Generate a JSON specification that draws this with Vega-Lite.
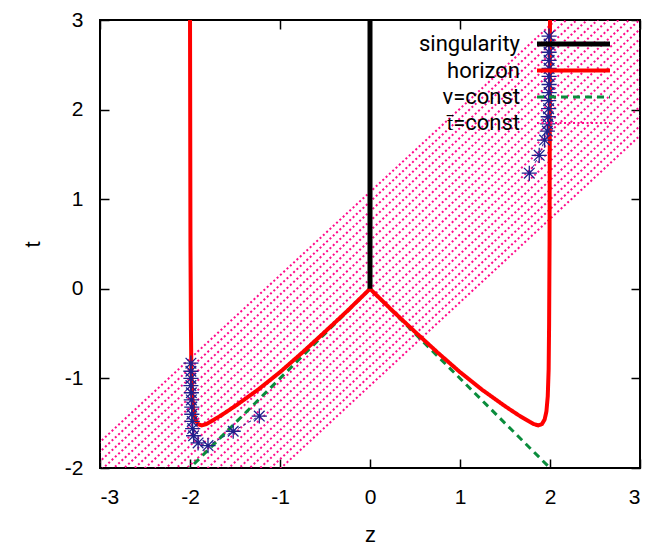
{
  "$schema": "https://vega.github.io/schema/vega-lite/v6.json",
  "width": 540,
  "height": 448,
  "autosize": "none",
  "padding": {"left": 100, "top": 20, "right": 32, "bottom": 80},
  "background": "white",
  "config": {
    "view": {"stroke": "black", "strokeWidth": 2},
    "axis": {
      "labelFont": "Liberation Sans", "labelFontSize": 21, "labelColor": "black",
      "titleFont": "Liberation Sans", "titleFontSize": 22, "titleFontWeight": "normal", "titleColor": "black",
      "tickColor": "black", "tickWidth": 1.5, "tickSize": -9, "domain": false, "grid": false
    }
  },
  "datasets": {
    "lines": [
      {"s": "t\u0304=const", "id": "p0", "z": -3.2, "t": -4.056}, {"s": "t\u0304=const", "id": "p0", "z": 3.2, "t": 1.896},
      {"s": "t\u0304=const", "id": "p1", "z": -3.2, "t": -3.948}, {"s": "t\u0304=const", "id": "p1", "z": 3.2, "t": 2.004},
      {"s": "t\u0304=const", "id": "p2", "z": -3.2, "t": -3.84}, {"s": "t\u0304=const", "id": "p2", "z": 3.2, "t": 2.112},
      {"s": "t\u0304=const", "id": "p3", "z": -3.2, "t": -3.732}, {"s": "t\u0304=const", "id": "p3", "z": 3.2, "t": 2.22},
      {"s": "t\u0304=const", "id": "p4", "z": -3.2, "t": -3.624}, {"s": "t\u0304=const", "id": "p4", "z": 3.2, "t": 2.328},
      {"s": "t\u0304=const", "id": "p5", "z": -3.2, "t": -3.516}, {"s": "t\u0304=const", "id": "p5", "z": 3.2, "t": 2.436},
      {"s": "t\u0304=const", "id": "p6", "z": -3.2, "t": -3.408}, {"s": "t\u0304=const", "id": "p6", "z": 3.2, "t": 2.544},
      {"s": "t\u0304=const", "id": "p7", "z": -3.2, "t": -3.3}, {"s": "t\u0304=const", "id": "p7", "z": 3.2, "t": 2.652},
      {"s": "t\u0304=const", "id": "p8", "z": -3.2, "t": -3.192}, {"s": "t\u0304=const", "id": "p8", "z": 3.2, "t": 2.76},
      {"s": "t\u0304=const", "id": "p9", "z": -3.2, "t": -3.084}, {"s": "t\u0304=const", "id": "p9", "z": 3.2, "t": 2.868},
      {"s": "t\u0304=const", "id": "p10", "z": -3.2, "t": -2.976}, {"s": "t\u0304=const", "id": "p10", "z": 3.2, "t": 2.976},
      {"s": "t\u0304=const", "id": "p11", "z": -3.2, "t": -2.868}, {"s": "t\u0304=const", "id": "p11", "z": 3.2, "t": 3.084},
      {"s": "t\u0304=const", "id": "p12", "z": -3.2, "t": -2.76}, {"s": "t\u0304=const", "id": "p12", "z": 3.2, "t": 3.192},
      {"s": "t\u0304=const", "id": "p13", "z": -3.2, "t": -2.652}, {"s": "t\u0304=const", "id": "p13", "z": 3.2, "t": 3.3},
      {"s": "t\u0304=const", "id": "p14", "z": -3.2, "t": -2.544}, {"s": "t\u0304=const", "id": "p14", "z": 3.2, "t": 3.408},
      {"s": "t\u0304=const", "id": "p15", "z": -3.2, "t": -2.436}, {"s": "t\u0304=const", "id": "p15", "z": 3.2, "t": 3.516},
      {"s": "t\u0304=const", "id": "p16", "z": -3.2, "t": -2.328}, {"s": "t\u0304=const", "id": "p16", "z": 3.2, "t": 3.624},
      {"s": "t\u0304=const", "id": "p17", "z": -3.2, "t": -2.22}, {"s": "t\u0304=const", "id": "p17", "z": 3.2, "t": 3.732},
      {"s": "t\u0304=const", "id": "p18", "z": -3.2, "t": -2.112}, {"s": "t\u0304=const", "id": "p18", "z": 3.2, "t": 3.84},
      {"s": "t\u0304=const", "id": "p19", "z": -3.2, "t": -2.004}, {"s": "t\u0304=const", "id": "p19", "z": 3.2, "t": 3.948},
      {"s": "t\u0304=const", "id": "p20", "z": -3.2, "t": -1.896}, {"s": "t\u0304=const", "id": "p20", "z": 3.2, "t": 4.056},
      {"s": "v=const", "id": "v", "z": -2.05, "t": -2.05}, {"s": "v=const", "id": "v", "z": 0, "t": 0}, {"s": "v=const", "id": "v", "z": 2.05, "t": -2.05},
      {"s": "horizon", "id": "h", "z": -2.0, "t": 3.1},
      {"s": "horizon", "id": "h", "z": -1.995, "t": 0.5},
      {"s": "horizon", "id": "h", "z": -1.99, "t": -0.4},
      {"s": "horizon", "id": "h", "z": -1.985, "t": -0.9},
      {"s": "horizon", "id": "h", "z": -1.975, "t": -1.2},
      {"s": "horizon", "id": "h", "z": -1.96, "t": -1.37},
      {"s": "horizon", "id": "h", "z": -1.94, "t": -1.46},
      {"s": "horizon", "id": "h", "z": -1.91, "t": -1.51},
      {"s": "horizon", "id": "h", "z": -1.87, "t": -1.525},
      {"s": "horizon", "id": "h", "z": -1.82, "t": -1.51},
      {"s": "horizon", "id": "h", "z": -1.75, "t": -1.47},
      {"s": "horizon", "id": "h", "z": -1.65, "t": -1.41},
      {"s": "horizon", "id": "h", "z": -1.5, "t": -1.31},
      {"s": "horizon", "id": "h", "z": -1.25, "t": -1.13},
      {"s": "horizon", "id": "h", "z": -1.0, "t": -0.93},
      {"s": "horizon", "id": "h", "z": -0.75, "t": -0.71},
      {"s": "horizon", "id": "h", "z": -0.5, "t": -0.48},
      {"s": "horizon", "id": "h", "z": -0.25, "t": -0.245},
      {"s": "horizon", "id": "h", "z": 0, "t": 0},
      {"s": "horizon", "id": "h", "z": 0.25, "t": -0.245},
      {"s": "horizon", "id": "h", "z": 0.5, "t": -0.48},
      {"s": "horizon", "id": "h", "z": 0.75, "t": -0.71},
      {"s": "horizon", "id": "h", "z": 1.0, "t": -0.93},
      {"s": "horizon", "id": "h", "z": 1.25, "t": -1.13},
      {"s": "horizon", "id": "h", "z": 1.5, "t": -1.31},
      {"s": "horizon", "id": "h", "z": 1.65, "t": -1.41},
      {"s": "horizon", "id": "h", "z": 1.75, "t": -1.47},
      {"s": "horizon", "id": "h", "z": 1.82, "t": -1.51},
      {"s": "horizon", "id": "h", "z": 1.87, "t": -1.525},
      {"s": "horizon", "id": "h", "z": 1.91, "t": -1.51},
      {"s": "horizon", "id": "h", "z": 1.94, "t": -1.46},
      {"s": "horizon", "id": "h", "z": 1.96, "t": -1.37},
      {"s": "horizon", "id": "h", "z": 1.975, "t": -1.2},
      {"s": "horizon", "id": "h", "z": 1.985, "t": -0.9},
      {"s": "horizon", "id": "h", "z": 1.99, "t": -0.4},
      {"s": "horizon", "id": "h", "z": 1.995, "t": 0.5},
      {"s": "horizon", "id": "h", "z": 2.0, "t": 3.1},
      {"s": "singularity", "id": "s", "z": 0, "t": 0}, {"s": "singularity", "id": "s", "z": 0, "t": 3.1}
    ],
    "stars": [
      {"traj": "L", "i": 0, "z": -1.99, "t": -0.83},
      {"traj": "L", "i": 1, "z": -1.99, "t": -0.92},
      {"traj": "L", "i": 2, "z": -1.99, "t": -1.0},
      {"traj": "L", "i": 3, "z": -1.99, "t": -1.08},
      {"traj": "L", "i": 4, "z": -1.985, "t": -1.16},
      {"traj": "L", "i": 5, "z": -1.985, "t": -1.24},
      {"traj": "L", "i": 6, "z": -1.98, "t": -1.32},
      {"traj": "L", "i": 7, "z": -1.98, "t": -1.4},
      {"traj": "L", "i": 8, "z": -1.975, "t": -1.48},
      {"traj": "L", "i": 9, "z": -1.97, "t": -1.56},
      {"traj": "L", "i": 10, "z": -1.96, "t": -1.64},
      {"traj": "L", "i": 11, "z": -1.91, "t": -1.72},
      {"traj": "L", "i": 12, "z": -1.8, "t": -1.75},
      {"traj": "L", "i": 13, "z": -1.52, "t": -1.59},
      {"traj": "L", "i": 14, "z": -1.23, "t": -1.42},
      {"traj": "R", "i": 0, "z": 1.99, "t": 2.82},
      {"traj": "R", "i": 1, "z": 1.99, "t": 2.73},
      {"traj": "R", "i": 2, "z": 1.99, "t": 2.64},
      {"traj": "R", "i": 3, "z": 1.99, "t": 2.55},
      {"traj": "R", "i": 4, "z": 1.99, "t": 2.46},
      {"traj": "R", "i": 5, "z": 1.99, "t": 2.37},
      {"traj": "R", "i": 6, "z": 1.99, "t": 2.28},
      {"traj": "R", "i": 7, "z": 1.99, "t": 2.19},
      {"traj": "R", "i": 8, "z": 1.985, "t": 2.1},
      {"traj": "R", "i": 9, "z": 1.985, "t": 2.01},
      {"traj": "R", "i": 10, "z": 1.98, "t": 1.92},
      {"traj": "R", "i": 11, "z": 1.975, "t": 1.84},
      {"traj": "R", "i": 12, "z": 1.97, "t": 1.76},
      {"traj": "R", "i": 13, "z": 1.94, "t": 1.66},
      {"traj": "R", "i": 14, "z": 1.88, "t": 1.49},
      {"traj": "R", "i": 15, "z": 1.77, "t": 1.29}
    ]
  },
  "resolve": {"axis": {"x": "independent", "y": "independent"}},
  "layer": [
    {
      "data": {"name": "lines"},
      "mark": {"type": "line", "clip": true},
      "encoding": {
        "x": {"field": "z", "type": "quantitative",
              "scale": {"domain": [-3, 3], "nice": false, "zero": false},
              "axis": {"orient": "bottom", "values": [-3, -2, -1, 0, 1, 2, 3], "labelExpr": "'' + datum.value", "labelPadding": 27, "title": "z", "titlePadding": 17}},
        "y": {"field": "t", "type": "quantitative",
              "scale": {"domain": [-2, 3], "nice": false, "zero": false},
              "axis": {"orient": "left", "values": [-2, -1, 0, 1, 2, 3], "labelExpr": "'' + datum.value", "labelPadding": 26, "title": "t", "titlePadding": 20}},
        "detail": {"field": "id"},
        "color": {"field": "s", "type": "nominal",
                  "scale": {"domain": ["singularity", "horizon", "v=const", "t\u0304=const"], "range": ["#000000", "#ff0000", "#0a8c3c", "#ff0a8a"]},
                  "legend": {"orient": "none", "legendX": 461.5, "legendY": 12, "title": null, "symbolType": "M-3.84,0H3.84", "symbolSize": 361,
                             "labelFontSize": 22, "labelFont": "Roboto", "labelColor": "black", "labelAlign": "right", "labelOffset": -65.5,
                             "rowPadding": 4, "padding": 0, "labelLimit": 0}},
        "strokeDash": {"field": "s", "type": "nominal",
                       "scale": {"domain": ["singularity", "horizon", "v=const", "t\u0304=const"], "range": [[1, 0], [1, 0], [7, 5], [2, 2.5]]}},
        "strokeWidth": {"field": "s", "type": "nominal",
                        "scale": {"domain": ["singularity", "horizon", "v=const", "t\u0304=const"], "range": [5, 2, 2.5, 2.4]}}
      }
    },
    {
      "data": {"name": "stars"},
      "mark": {"type": "line", "clip": true, "color": "#20208c", "strokeWidth": 1, "strokeDash": [3, 3]},
      "encoding": {
        "x": {"field": "z", "type": "quantitative", "axis": null},
        "y": {"field": "t", "type": "quantitative", "axis": null},
        "detail": {"field": "traj"},
        "order": {"field": "i"}
      }
    },
    {
      "data": {"name": "stars"},
      "mark": {"type": "point", "clip": true, "filled": false, "color": "#20208c", "strokeWidth": 1.3, "size": 230, "opacity": 1,
               "shape": "M-1,0L1,0M0,-1L0,1M-0.7,-0.7L0.7,0.7M-0.7,0.7L0.7,-0.7"},
      "encoding": {
        "x": {"field": "z", "type": "quantitative",
              "axis": {"orient": "top", "values": [-3, -2, -1, 0, 1, 2, 3], "labels": false, "title": null}},
        "y": {"field": "t", "type": "quantitative",
              "axis": {"orient": "right", "values": [-2, -1, 0, 1, 2, 3], "labels": false, "title": null}}
      }
    }
  ]
}
